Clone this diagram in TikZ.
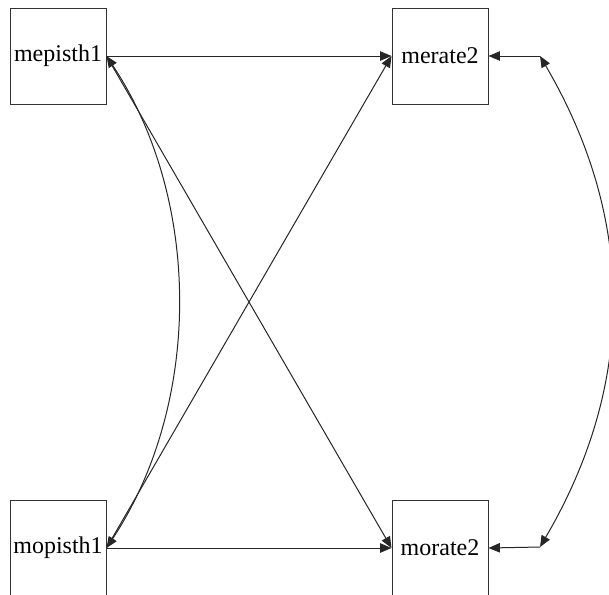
\documentclass[tikz,border=0pt]{standalone}
\usepackage{fontspec}
\setmainfont{Liberation Serif}
\usetikzlibrary{arrows.meta}
\begin{document}
\begin{tikzpicture}[x=0.75pt,y=-0.75pt,
  var/.style={draw=black!80,line width=0.75pt,minimum width=72pt,minimum height=72pt,inner sep=0pt,font=\fontsize{18pt}{21pt}\selectfont},
  path/.style={draw=black!85,line width=0.75pt,-{Triangle[length=8.5pt,width=7pt]}},
  cov/.style={draw=black!85,line width=0.75pt,{Triangle[length=8.5pt,width=7pt]}-{Triangle[length=8.5pt,width=7pt]}}]
\useasboundingbox (0,0) rectangle (609,594);
\clip (0,0) rectangle (609,594);
\fill[white] (0,0) rectangle (609,594);
\node[var] (mep) at (58,56) {mepisth1};
\node[var] (mer) at (440,56) {merate2};
\node[var] (mop) at (58,548) {mopisth1};
\node[var] (mor) at (440,548) {morate2};
\coordinate (e1) at (540,56);
\coordinate (e2) at (540,547);
\draw[path] (mep.east) -- (mer.west);
\draw[path] (mep.east) -- (mor.west);
\draw[path] (mop.east) -- (mer.west);
\draw[path] (mop.east) -- (mor.west);
\draw[cov] (mep.east) .. controls (202,200) and (202,403) .. (mop.east);
\draw[path] (e1) -- (mer.east);
\draw[path] (e2) -- (mor.east);
\draw[cov] (e1) .. controls (636,220) and (636,383) .. (e2);
\end{tikzpicture}
\end{document}
